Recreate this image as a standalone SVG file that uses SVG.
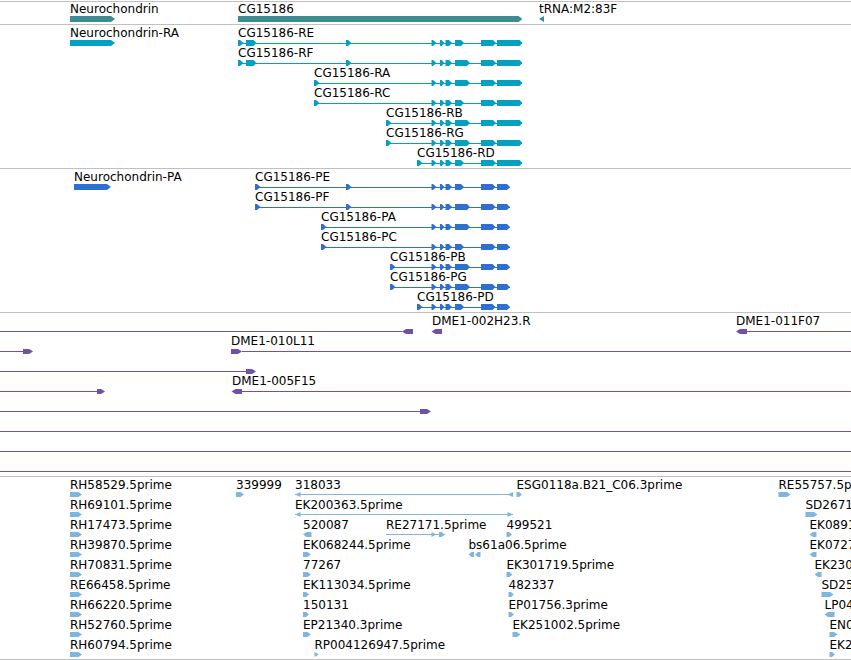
<svg xmlns="http://www.w3.org/2000/svg" xmlns:xlink="http://www.w3.org/1999/xlink" width="851" height="660" viewBox="0 0 851 660">
<style>
.t{font-family:"DejaVu Sans","Liberation Sans",sans-serif;font-size:12px;fill:#000}
.sep{stroke:#c0c0c0;stroke-width:1}
.gene{fill:#3d8d90}
.tx{fill:#04a0c2}
.txl{stroke:#04a0c2;stroke-width:1}
.pr{fill:#2f6fd2}
.prl{stroke:#2f6fd2;stroke-width:1}
.dm{fill:#6e52a6}
.dml{stroke:#6e52a6;stroke-width:1}
.est{fill:#80b6de}
.estl{stroke:#80b6de;stroke-width:1}
</style>
<defs>
<polygon id="sa" points="0,-3 2,-3 5.5,0 2,3 0,3"/>
<g id="e123">
<polygon points="431.5,-3 433,-3 436.5,0 433,3 431.5,3"/>
<polygon points="440,-3 441.5,-3 444.5,0 441.5,3 440,3"/>
<polygon points="445.5,-3 449,-3 452,0 449,3 445.5,3"/>
</g>
<polygon id="e4s" points="455,-3 461,-3 464,0 461,3 455,3"/>
<polygon id="e4l" points="455,-3 467,-3 470,0 467,3 455,3"/>
<g id="cEnd">
<polygon points="481,-3 493,-3 496,0 493,3 481,3"/>
<polygon points="497,-3 519.5,-3 522.5,0 519.5,3 497,3"/>
</g>
<g id="pEnd">
<polygon points="481,-3 492.5,-3 495.5,0 492.5,3 481,3"/>
<polygon points="497,-3 507,-3 510,0 507,3 497,3"/>
</g>
<g id="cTailS"><use href="#e123"/><use href="#e4s"/><use href="#cEnd"/></g>
<g id="cTailL"><use href="#e123"/><use href="#e4l"/><use href="#cEnd"/></g>
<g id="pTailS"><use href="#e123"/><use href="#e4s"/><use href="#pEnd"/></g>
<g id="pTailL"><use href="#e123"/><use href="#e4l"/><use href="#pEnd"/></g>
<polygon id="r4" points="0,-2.5 4.5,0 0,2.5"/>
<polygon id="r5" points="0,-2.5 2.5,-2.5 5.5,0 2.5,2.5 0,2.5"/>
<polygon id="r6" points="0,-2.5 3,-2.5 6,0 3,2.5 0,2.5"/>
<polygon id="r8" points="0,-2.5 4.5,-2.5 8,0 4.5,2.5 0,2.5"/>
<polygon id="r12" points="0,-2.5 8.5,-2.5 12,0 8.5,2.5 0,2.5"/>
<polygon id="l5" points="0,0 3,-2.5 5.5,-2.5 5.5,2.5 3,2.5"/>
<polygon id="l7" points="0,0 3.5,-2.5 7,-2.5 7,2.5 3.5,2.5"/>
<polygon id="l8" points="0,0 3.5,-2.5 8.5,-2.5 8.5,2.5 3.5,2.5"/>
<polygon id="l10" points="0,0 3.5,-2.5 10,-2.5 10,2.5 3.5,2.5"/>
</defs>
<rect x="0" y="0" width="851" height="660" fill="#fff"/>
<g id="separators">
<line class="sep" x1="0" y1="1.5" x2="851" y2="1.5"/>
<line class="sep" x1="0" y1="24.5" x2="851" y2="24.5"/>
<line class="sep" x1="0" y1="168.5" x2="851" y2="168.5"/>
<line class="sep" x1="0" y1="312.5" x2="851" y2="312.5"/>
<line class="sep" x1="0" y1="476.5" x2="851" y2="476.5"/>
<line class="sep" x1="0" y1="659.5" x2="851" y2="659.5"/>
</g>
<g id="connectors">
<line class="txl" x1="238" y1="43.5" x2="522" y2="43.5"/>
<line class="txl" x1="238" y1="63.5" x2="522" y2="63.5"/>
<line class="txl" x1="314" y1="83.5" x2="522" y2="83.5"/>
<line class="txl" x1="314" y1="103.5" x2="522" y2="103.5"/>
<line class="txl" x1="386" y1="123.5" x2="522" y2="123.5"/>
<line class="txl" x1="386" y1="143.5" x2="522" y2="143.5"/>
<line class="txl" x1="417" y1="163.5" x2="522" y2="163.5"/>
<line class="prl" x1="255" y1="187.5" x2="510" y2="187.5"/>
<line class="prl" x1="255" y1="207.5" x2="510" y2="207.5"/>
<line class="prl" x1="321" y1="227.5" x2="510" y2="227.5"/>
<line class="prl" x1="321" y1="247.5" x2="510" y2="247.5"/>
<line class="prl" x1="390" y1="267.5" x2="510" y2="267.5"/>
<line class="prl" x1="390" y1="287.5" x2="510" y2="287.5"/>
<line class="prl" x1="417" y1="307.5" x2="510" y2="307.5"/>
<line class="dml" x1="0" y1="331.5" x2="402" y2="331.5"/>
<line class="dml" x1="747" y1="331.5" x2="851" y2="331.5"/>
<line class="dml" x1="0" y1="351.5" x2="23" y2="351.5"/>
<line class="dml" x1="242" y1="351.5" x2="851" y2="351.5"/>
<line class="dml" x1="0" y1="371.5" x2="246" y2="371.5"/>
<line class="dml" x1="0" y1="391.5" x2="97" y2="391.5"/>
<line class="dml" x1="242" y1="391.5" x2="851" y2="391.5"/>
<line class="dml" x1="0" y1="411.5" x2="420" y2="411.5"/>
<line class="dml" x1="0" y1="431.5" x2="851" y2="431.5"/>
<line class="dml" x1="0" y1="451.5" x2="851" y2="451.5"/>
<line class="dml" x1="0" y1="471.5" x2="851" y2="471.5"/>
<line class="estl" x1="295" y1="494.5" x2="513" y2="494.5"/>
<line class="estl" x1="295" y1="514.5" x2="513" y2="514.5"/>
<line class="estl" x1="386" y1="534.5" x2="445" y2="534.5"/>
</g>
<g id="Neurochondrin" class="gene"><text class="t" x="70" y="13">Neurochondrin</text><polygon points="70,16 111,16 115,19 111,22 70,22"/></g>
<g id="CG15186" class="gene"><text class="t" x="238" y="13">CG15186</text><polygon points="238,16 518.5,16 522.5,19 518.5,22 238,22"/></g>
<g id="tRNA-M2-83F" class="gene"><text class="t" x="539" y="13">tRNA:M2:83F</text><polygon points="539,19 544,16 544,22"/></g>
<g id="Neurochondrin-RA" class="tx"><text class="t" x="70" y="37">Neurochondrin-RA</text><polygon points="70,40 111,40 115,43 111,46 70,46"/></g>
<g id="CG15186-RE" class="tx"><text class="t" x="238" y="37">CG15186-RE</text><use href="#sa" x="238" y="43"/><polygon points="246,40 253.5,40 256.5,43 253.5,46 246,46"/><use href="#sa" x="346" y="43"/><use href="#cTailS" y="43"/></g>
<g id="CG15186-RF" class="tx"><text class="t" x="238" y="57">CG15186-RF</text><use href="#sa" x="238" y="63"/><polygon points="246,60 253.5,60 256.5,63 253.5,66 246,66"/><use href="#sa" x="346" y="63"/><use href="#cTailL" y="63"/></g>
<g id="CG15186-RA" class="tx"><text class="t" x="314" y="77">CG15186-RA</text><use href="#sa" x="314" y="83"/><use href="#cTailL" y="83"/></g>
<g id="CG15186-RC" class="tx"><text class="t" x="314" y="97">CG15186-RC</text><use href="#sa" x="314" y="103"/><use href="#cTailS" y="103"/></g>
<g id="CG15186-RB" class="tx"><text class="t" x="386" y="117">CG15186-RB</text><use href="#sa" x="386" y="123"/><use href="#cTailL" y="123"/></g>
<g id="CG15186-RG" class="tx"><text class="t" x="386" y="137">CG15186-RG</text><use href="#sa" x="386" y="143"/><use href="#cTailL" y="143"/></g>
<g id="CG15186-RD" class="tx"><text class="t" x="417" y="157">CG15186-RD</text><use href="#sa" x="417" y="163"/><use href="#cTailS" y="163"/></g>
<g id="Neurochondrin-PA" class="pr"><text class="t" x="74" y="181">Neurochondrin-PA</text><polygon points="74,184 107,184 111,187 107,190 74,190"/></g>
<g id="CG15186-PE" class="pr"><text class="t" x="255" y="181">CG15186-PE</text><use href="#sa" x="255" y="187"/><use href="#sa" x="346" y="187"/><use href="#pTailS" y="187"/></g>
<g id="CG15186-PF" class="pr"><text class="t" x="255" y="201">CG15186-PF</text><use href="#sa" x="255" y="207"/><use href="#sa" x="346" y="207"/><use href="#pTailL" y="207"/></g>
<g id="CG15186-PA" class="pr"><text class="t" x="321" y="221">CG15186-PA</text><use href="#sa" x="321" y="227"/><use href="#pTailL" y="227"/></g>
<g id="CG15186-PC" class="pr"><text class="t" x="321" y="241">CG15186-PC</text><use href="#sa" x="321" y="247"/><use href="#pTailS" y="247"/></g>
<g id="CG15186-PB" class="pr"><text class="t" x="390" y="261">CG15186-PB</text><use href="#sa" x="390" y="267"/><use href="#pTailL" y="267"/></g>
<g id="CG15186-PG" class="pr"><text class="t" x="390" y="281">CG15186-PG</text><use href="#sa" x="390" y="287"/><use href="#pTailL" y="287"/></g>
<g id="CG15186-PD" class="pr"><text class="t" x="417" y="301">CG15186-PD</text><use href="#sa" x="417" y="307"/><use href="#pTailS" y="307"/></g>
<g id="dme-row0a" class="dm"><polygon points="402,331.5 406,329 413,329 413,334 406,334"/></g>
<g id="DME1-002H23.R" class="dm"><text class="t" x="432" y="325">DME1-002H23.R</text><polygon points="431.5,331.5 435.5,329 442,329 442,334 435.5,334"/></g>
<g id="DME1-011F07" class="dm"><text class="t" x="736" y="325">DME1-011F07</text><polygon points="736,331.5 740,329 747,329 747,334 740,334"/></g>
<g id="dme-row1a" class="dm"><polygon points="23,349 29,349 33,351.5 29,354 23,354"/></g>
<g id="DME1-010L11" class="dm"><text class="t" x="231" y="345">DME1-010L11</text><polygon points="231,349 238,349 242,351.5 238,354 231,354"/></g>
<g id="dme-row2a" class="dm"><polygon points="246,369 252,369 256,371.5 252,374 246,374"/></g>
<g id="dme-row3a" class="dm"><polygon points="97,389 101,389 105,391.5 101,394 97,394"/></g>
<g id="DME1-005F15" class="dm"><text class="t" x="232" y="385">DME1-005F15</text><polygon points="231.5,391.5 235.5,389 242,389 242,394 235.5,394"/></g>
<g id="dme-row4a" class="dm"><polygon points="420,409 427,409 431,411.5 427,414 420,414"/></g>
<g id="RH58529.5prime" class="est"><text class="t" x="70" y="489">RH58529.5prime</text><use href="#r12" x="70" y="494.5"/></g>
<g id="RH69101.5prime" class="est"><text class="t" x="70" y="509">RH69101.5prime</text><use href="#r12" x="70" y="514.5"/></g>
<g id="RH17473.5prime" class="est"><text class="t" x="70" y="529">RH17473.5prime</text><use href="#r12" x="70" y="534.5"/></g>
<g id="RH39870.5prime" class="est"><text class="t" x="70" y="549">RH39870.5prime</text><use href="#r12" x="70" y="554.5"/></g>
<g id="RH70831.5prime" class="est"><text class="t" x="70" y="569">RH70831.5prime</text><use href="#r12" x="70" y="574.5"/></g>
<g id="RE66458.5prime" class="est"><text class="t" x="70" y="589">RE66458.5prime</text><use href="#r12" x="70" y="594.5"/></g>
<g id="RH66220.5prime" class="est"><text class="t" x="70" y="609">RH66220.5prime</text><use href="#r12" x="70" y="614.5"/></g>
<g id="RH52760.5prime" class="est"><text class="t" x="70" y="629">RH52760.5prime</text><use href="#r12" x="70" y="634.5"/></g>
<g id="RH60794.5prime" class="est"><text class="t" x="70" y="649">RH60794.5prime</text><use href="#r12" x="70" y="654.5"/></g>
<g id="n339999" class="est"><text class="t" x="236" y="489">339999</text><use href="#r8" x="236" y="494.5"/></g>
<g id="n318033" class="est"><text class="t" x="295" y="489">318033</text><polygon points="295,494.5 300.5,492 300.5,497"/><polygon points="507.5,494.5 513,492 513,497"/></g>
<g id="ESG0118a.B21_C06.3prime" class="est"><text class="t" x="516.5" y="489">ESG0118a.B21_C06.3prime</text><use href="#r5" x="516.5" y="494.5"/></g>
<g id="RE55757.5prime" class="est"><text class="t" x="778.5" y="489">RE55757.5p</text><use href="#r12" x="778.5" y="494.5"/></g>
<g id="EK200363.5prime" class="est"><text class="t" x="295" y="509">EK200363.5prime</text><polygon points="295,514.5 300.5,512 300.5,517"/><polygon points="507.5,512 513,514.5 507.5,517"/></g>
<g id="SD2671" class="est"><text class="t" x="805.5" y="509">SD2671</text><use href="#r12" x="805.5" y="514.5"/></g>
<g id="n520087" class="est"><text class="t" x="303" y="529">520087</text><use href="#l8" x="303" y="534.5"/></g>
<g id="RE27171.5prime" class="est"><text class="t" x="386" y="529">RE27171.5prime</text><polygon points="431.5,532 436.5,534.5 431.5,537"/><polygon points="439,532 441.5,532 445,534.5 441.5,537 439,537"/></g>
<g id="n499521" class="est"><text class="t" x="506.5" y="529">499521</text><use href="#r5" x="506.5" y="534.5"/></g>
<g id="EK0891" class="est"><text class="t" x="809.5" y="529">EK0891</text><use href="#l7" x="809.5" y="534.5"/></g>
<g id="EK068244.5prime" class="est"><text class="t" x="303" y="549">EK068244.5prime</text><use href="#r8" x="303" y="554.5"/></g>
<g id="bs61a06.5prime" class="est"><text class="t" x="468.5" y="549">bs61a06.5prime</text><use href="#l5" x="468.5" y="554.5"/><use href="#l5" x="475" y="554.5"/></g>
<g id="EK0727" class="est"><text class="t" x="809.5" y="549">EK0727</text><use href="#l7" x="809.5" y="554.5"/></g>
<g id="n77267" class="est"><text class="t" x="303" y="569">77267</text><use href="#r8" x="303" y="574.5"/></g>
<g id="EK301719.5prime" class="est"><text class="t" x="506.5" y="569">EK301719.5prime</text><use href="#r6" x="506.5" y="574.5"/></g>
<g id="EK230" class="est"><text class="t" x="814.5" y="569">EK230</text><use href="#l7" x="814.5" y="574.5"/></g>
<g id="EK113034.5prime" class="est"><text class="t" x="303" y="589">EK113034.5prime</text><use href="#r6" x="303" y="594.5"/></g>
<g id="n482337" class="est"><text class="t" x="508.5" y="589">482337</text><use href="#r5" x="508.5" y="594.5"/></g>
<g id="SD25" class="est"><text class="t" x="821.5" y="589">SD25</text><use href="#r12" x="821.5" y="594.5"/></g>
<g id="n150131" class="est"><text class="t" x="303" y="609">150131</text><use href="#r6" x="303" y="614.5"/></g>
<g id="EP01756.3prime" class="est"><text class="t" x="508.5" y="609">EP01756.3prime</text><use href="#r5" x="508.5" y="614.5"/></g>
<g id="LP04" class="est"><text class="t" x="824.5" y="609">LP04</text><use href="#l10" x="824.5" y="614.5"/></g>
<g id="EP21340.3prime" class="est"><text class="t" x="303" y="629">EP21340.3prime</text><use href="#r8" x="303" y="634.5"/></g>
<g id="EK251002.5prime" class="est"><text class="t" x="512.5" y="629">EK251002.5prime</text><use href="#r8" x="512.5" y="634.5"/></g>
<g id="EN0" class="est"><text class="t" x="829.5" y="629">EN0</text><use href="#r8" x="829.5" y="634.5"/></g>
<g id="RP004126947.5prime" class="est"><text class="t" x="314.5" y="649">RP004126947.5prime</text><use href="#r4" x="314.5" y="654.5"/></g>
<g id="EK2" class="est"><text class="t" x="829.5" y="649">EK2</text><use href="#r5" x="829.5" y="654.5"/></g>
</svg>
